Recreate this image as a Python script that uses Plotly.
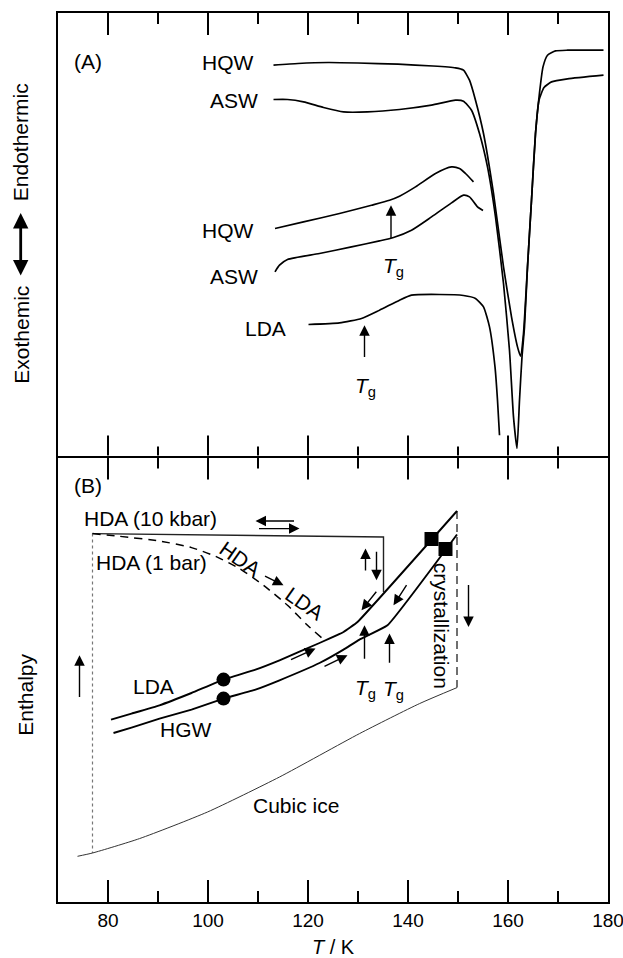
import plotly.graph_objects as go

FONT = "Liberation Sans, Arial, Helvetica, sans-serif"

# ---------------- Panel A: DSC heating scans (heat flow, arb. units) ----------------
hqw_scan_T = [113.1, 118.0, 124.0, 130.0, 138.0, 145.0, 149.5, 151.1, 152.3, 153.5, 155.1,
              157.1, 159.1, 160.7, 161.9, 162.5, 163.1, 163.9, 164.7, 165.5, 166.3, 167.0,
              167.9, 169.5, 171.9, 179.1]
hqw_scan_H = [392.3, 394.0, 395.0, 394.5, 393.3, 391.5, 389.6, 387.3, 377.3, 357.3, 324.0,
              264.0, 190.6, 140.6, 110.6, 101.3, 124.0, 190.6, 257.3, 324.0, 364.6, 390.6,
              402.3, 406.6, 407.3, 407.3]

asw_scan_T = [113.1, 115.9, 119.1, 123.1, 127.1, 131.9, 138.3, 144.7, 149.5, 151.1, 152.7,
              154.3, 155.9, 157.5, 159.1, 160.3, 161.1, 161.8, 162.3, 162.8, 163.3, 163.9,
              164.7, 165.5, 166.2, 167.2, 168.7, 171.9, 179.1]
asw_scan_H = [358.0, 358.0, 355.6, 350.0, 345.6, 345.6, 348.0, 352.3, 357.3, 356.3, 347.3,
              324.0, 290.6, 240.6, 174.0, 107.0, 40.6, 9.0, 57.3, 100.6, 130.6, 190.6,
              257.3, 324.0, 357.3, 370.0, 375.6, 378.6, 382.3]

hqw_part_T = [113.4, 119.1, 126.3, 132.7, 136.3, 138.3, 141.5, 145.5, 148.7, 150.3, 151.5, 153.1]
hqw_part_H = [229.0, 235.6, 244.0, 252.3, 257.3, 261.3, 270.6, 284.0, 290.6, 289.0, 284.0, 275.6]

asw_part_T = [113.4, 114.3, 115.9, 122.3, 128.7, 134.3, 137.1, 140.7, 144.7, 148.7, 151.1,
              152.3, 153.9, 155.0]
asw_part_H = [185.6, 192.3, 198.0, 204.0, 210.6, 216.6, 220.0, 227.3, 240.6, 254.6, 262.3,
              260.6, 250.6, 247.0]

lda_scan_T = [120.1, 126.3, 130.7, 134.3, 138.3, 140.7, 146.3, 151.1, 153.5, 155.1, 156.3,
              157.4, 157.9, 158.3]
lda_scan_H = [133.0, 134.6, 139.0, 147.3, 157.3, 162.3, 163.0, 162.0, 159.0, 150.6, 130.6,
              90.6, 57.3, 22.3]

# Tg markers in panel A: (T, tail, head)
tg_arrows_A = [(136.6, 218.0, 252.3), (131.3, 99.0, 132.3)]

# ---------------- Panel B: enthalpy schematic (arb. units) ----------------
hda10_T = [76.9, 135.1, 135.1]
hda10_H = [368.4, 365.0, 310.0]

quench_T = [76.9, 76.9]
quench_H = [368.4, 49.0]

hda1_T = [76.9, 82.3, 90.3, 96.7, 101.5, 106.3, 111.1, 115.9, 119.9, 122.7]
hda1_H = [368.4, 365.7, 361.0, 354.4, 345.7, 333.4, 316.7, 296.7, 276.7, 264.4]

lda_T = [80.6, 84.7, 90.3, 96.7, 103.1, 109.5, 114.3, 122.3, 127.1, 129.9, 149.8]
lda_H = [182.4, 188.4, 196.7, 209.0, 222.4, 232.4, 241.7, 259.0, 270.0, 280.0, 391.0]

hgw_T = [81.1, 84.7, 90.3, 96.7, 103.1, 109.5, 114.3, 122.3, 127.1, 130.3, 135.9, 149.8]
hgw_H = [169.0, 174.4, 183.4, 192.4, 203.4, 212.4, 221.7, 239.0, 252.4, 262.4, 276.7, 367.5]

cubic_T = [73.9, 76.9, 86.3, 99.9, 114.3, 130.3, 142.3, 149.8]
cubic_H = [45.7, 49.0, 63.4, 90.0, 125.0, 168.4, 198.4, 214.4]

cryst_T = [149.8, 149.8]
cryst_H = [391.0, 214.4]

anneal_T = [103.1, 103.1]
anneal_H = [222.4, 203.4]

onset_T = [144.7, 147.5]
onset_H = [363.0, 353.0]

# arrows in panel B: ((T_tail, H_tail), (T_head, H_head))
arrows_B = [
    ((117.5, 381.0), (109.5, 381.0)),
    ((109.9, 373.4), (118.3, 373.4)),
    ((131.5, 330.0), (131.5, 353.4)),
    ((133.7, 351.7), (133.7, 321.7)),
    ((133.9, 311.7), (130.7, 291.7)),
    ((139.9, 318.4), (137.1, 296.7)),
    ((116.3, 241.7), (121.5, 253.4)),
    ((123.0, 235.0), (127.9, 246.7)),
    ((131.3, 241.7), (131.3, 276.7)),
    ((136.3, 237.7), (136.3, 268.4)),
    ((111.1, 326.7), (115.1, 316.7)),
    ((152.1, 318.4), (152.1, 275.0)),
    ((74.3, 203.4), (74.3, 246.7)),
]

# temperature axis
T_RANGE = [70, 180]
major_ticks = [80, 100, 120, 140, 160]
minor_ticks = [90, 110, 130, 150, 170]
tick_labels = [80, 100, 120, 140, 160, 180]
Y_TOP = 444.5          # height of each panel in its own units
MAJOR_LEN, MINOR_LEN = 22, 11

TG = "<i>T</i><sub>g</sub>"

fig = go.Figure()


def add_line(T, H, panel, width=1.7, dash="solid", color="black", shape="spline", smoothing=0.6):
    xa, ya = ("x2", "y2") if panel == "A" else ("x", "y")
    fig.add_trace(go.Scatter(
        x=T, y=H, xaxis=xa, yaxis=ya, mode="lines",
        line=dict(color=color, width=width, dash=dash, shape=shape, smoothing=smoothing),
        hoverinfo="skip", showlegend=False))


# panel A curves
add_line(hqw_scan_T, hqw_scan_H, "A", smoothing=0.5)
add_line(asw_scan_T, asw_scan_H, "A", smoothing=0.5)
add_line(hqw_part_T, hqw_part_H, "A")
add_line(asw_part_T, asw_part_H, "A")
add_line(lda_scan_T, lda_scan_H, "A", smoothing=0.5)

# panel B curves
add_line(quench_T, quench_H, "B", width=1.2, dash="dot", color="#777777", shape="linear")
add_line(hda10_T, hda10_H, "B", width=1.4, color="#222222", shape="linear")
add_line(hda1_T, hda1_H, "B", width=1.5, dash="8px,6px", shape="spline")
add_line(cubic_T, cubic_H, "B", width=1.0, color="#333333", shape="spline")
add_line(cryst_T, cryst_H, "B", width=1.4, dash="8px,5px", color="#333333", shape="linear")
add_line(lda_T, lda_H, "B", width=1.9, shape="spline", smoothing=0.3)
add_line(hgw_T, hgw_H, "B", width=1.9, shape="spline", smoothing=0.3)

fig.add_trace(go.Scatter(x=anneal_T, y=anneal_H, xaxis="x", yaxis="y", mode="markers",
                         marker=dict(symbol="circle", size=14, color="black"),
                         hoverinfo="skip", showlegend=False))
fig.add_trace(go.Scatter(x=onset_T, y=onset_H, xaxis="x", yaxis="y", mode="markers",
                         marker=dict(symbol="square", size=14, color="black"),
                         hoverinfo="skip", showlegend=False))

# inward tick marks on the top and bottom edge of both panels (layout shapes)
shapes = []
for xr, yr in (("x", "y"), ("x2", "y2")):
    for ticks, length in ((major_ticks, MAJOR_LEN), (minor_ticks, MINOR_LEN)):
        for t in ticks:
            for y0, y1 in ((0, length), (Y_TOP - length, Y_TOP)):
                shapes.append(dict(type="line", xref=xr, yref=yr, x0=t, x1=t, y0=y0, y1=y1,
                                   line=dict(color="black", width=2), layer="above"))

annotations = []


def label(text, T, H, panel, size=21, xanchor="center", angle=0):
    xr, yr = ("x2", "y2") if panel == "A" else ("x", "y")
    annotations.append(dict(text=text, x=T, y=H, xref=xr, yref=yr, showarrow=False,
                            font=dict(size=size, family=FONT, color="black"),
                            xanchor=xanchor, yanchor="middle", textangle=angle))


def arrow(tail, head, panel):
    xr, yr = ("x2", "y2") if panel == "A" else ("x", "y")
    annotations.append(dict(text="", x=head[0], y=head[1], ax=tail[0], ay=tail[1],
                            xref=xr, yref=yr, axref=xr, ayref=yr, showarrow=True,
                            arrowhead=2, arrowsize=1.5, arrowwidth=1.4, arrowcolor="black"))


# panel A text
label("(A)", 75.9, 395.6, "A")
label("HQW", 109.5, 394.6, "A", xanchor="right")
label("ASW", 110.3, 357.3, "A", xanchor="right")
label("HQW", 109.5, 227.3, "A", xanchor="right")
label("ASW", 110.3, 180.6, "A", xanchor="right")
label("LDA", 115.9, 129.0, "A", xanchor="right")
label(TG, 137.1, 190.6, "A")
label(TG, 131.5, 70.6, "A")
for T, tail, head in tg_arrows_A:
    arrow((T, tail), (T, head), "A")

# panel B text
label("(B)", 75.9, 416.7, "B")
label("HDA (10 kbar)", 74.7, 383.4, "B", xanchor="left")
label("HDA (1 bar)", 77.1, 340.0, "B", xanchor="left")
label("HDA", 106.3, 343.4, "B", angle=35)
label("LDA", 119.3, 298.4, "B", angle=35)
label("LDA", 89.1, 215.7, "B")
label("HGW", 95.5, 172.4, "B")
label(TG, 131.5, 213.4, "B")
label(TG, 137.1, 211.7, "B")
label("crystallization", 146.7, 276.7, "B", angle=90)
label("Cubic ice", 117.5, 96.7, "B")
for tail, head in arrows_B:
    arrow(tail, head, "B")

# vertical axis descriptions (paper coordinates)
PLOT_L, PLOT_W, PLOT_B, PLOT_H = 58.3, 550.0, 902.0, 889.0


def px_to_paper(px, py):
    return (px - PLOT_L) / PLOT_W, (PLOT_B - py) / PLOT_H


for text, px, py in [("Endothermic", 21, 142.5), ("Exothemic", 21, 335), ("Enthalpy", 25, 695)]:
    xp, yp = px_to_paper(px, py)
    annotations.append(dict(text=text, x=xp, y=yp, xref="paper", yref="paper", showarrow=False,
                            textangle=-90, font=dict(size=21, family=FONT, color="black"),
                            xanchor="center", yanchor="middle"))

xp, yp = px_to_paper(21, 213)
annotations.append(dict(text="", x=xp, y=yp, xref="paper", yref="paper", ax=0, ay=64,
                        showarrow=True, arrowhead=2, arrowside="end+start", arrowsize=1.1,
                        arrowwidth=2.8, arrowcolor="black"))

# panel A sits 2 px higher so that its bottom line overlaps the top line of panel B
GAP = 2.0 / PLOT_H

x_common = dict(
    range=T_RANGE, tickmode="array", tickvals=tick_labels, ticktext=[str(v) for v in tick_labels],
    ticks="", showline=True, linewidth=2, linecolor="black", mirror=True,
    showgrid=False, zeroline=False, automargin=False, ticklabeloverflow="allow",
)
y_common = dict(showline=True, linewidth=2, linecolor="black", mirror=True,
                ticks="", showticklabels=False, showgrid=False, zeroline=False, automargin=False)

fig.update_layout(
    width=623, height=958,
    margin=dict(l=58, r=15, t=13, b=56),
    paper_bgcolor="white", plot_bgcolor="white",
    font=dict(family=FONT, color="black"),
    showlegend=False,
    xaxis=dict(**x_common, anchor="y", domain=[0, 1],
               tickfont=dict(size=19, family=FONT, color="black"),
               title=dict(text="<i>T</i> / K", font=dict(size=20, family=FONT, color="black"),
                          standoff=20)),
    xaxis2=dict(**x_common, anchor="y2", domain=[0, 1], showticklabels=False),
    yaxis=dict(**y_common, anchor="x", domain=[0, 0.5], range=[0, Y_TOP]),
    yaxis2=dict(**y_common, anchor="x2", domain=[0.5 + GAP, 1], range=[2, Y_TOP]),
    shapes=shapes,
    annotations=annotations,
)

fig.write_html("out.html")
